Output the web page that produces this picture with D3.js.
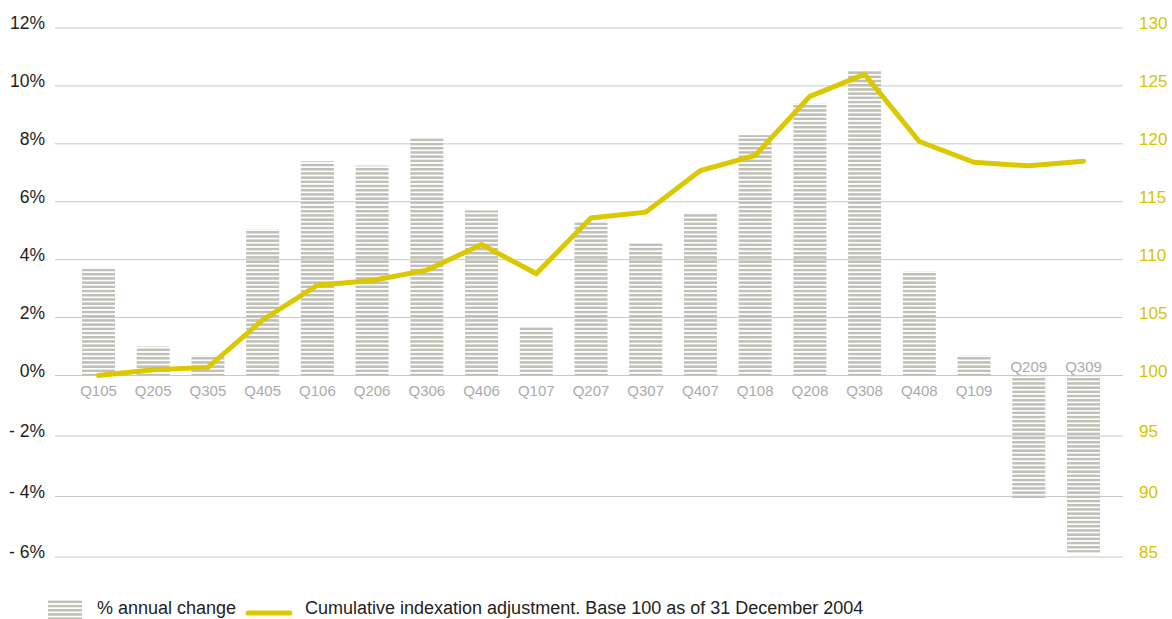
<!DOCTYPE html>
<html>
<head>
<meta charset="utf-8">
<script src="https://cdn.jsdelivr.net/npm/d3@7"></script>
<style>
  body { margin: 0; background: #fff; }
  svg { display: block; font-family: "Liberation Sans", Arial, sans-serif; }
</style>
</head>
<body>
<svg id="myGraph" width="1172" height="619"></svg>
<script>
// quarters
var quarters = ["Q105","Q205","Q305","Q405","Q106","Q206","Q306","Q406","Q107","Q207",
                "Q307","Q407","Q108","Q208","Q308","Q408","Q109","Q209","Q309"];
// % annual change (bars, left axis)
var annualChange = [3.7, 1.0, 0.7, 5.05, 7.4, 7.25, 8.2, 5.7, 1.7, 5.3,
                    4.6, 5.6, 8.3, 9.4, 10.55, 3.6, 0.7, -4.05, -5.85];
// cumulative indexation, base 100 (line, right axis)
var cumulative = [100.0, 100.5, 100.7, 104.8, 107.8, 108.2, 109.1, 111.3, 108.8, 113.6,
                  114.1, 117.7, 119.0, 124.1, 126.0, 120.2, 118.4, 118.1, 118.5];
var leftTicks = [12, 10, 8, 6, 4, 2, 0, -2, -4, -6];
var rightTicks = [130, 125, 120, 115, 110, 105, 100, 95, 90, 85];

var barColor = "#c0c0b8";
var lineColor = "#dcc800";

var svg = d3.select("#myGraph");

// scales
var x = d3.scalePoint().domain(quarters).range([98.5, 1083.5]);
var barW = 33;
var yL = d3.scaleLinear().domain([-6, 0, 12]).range([557, 375.5, 28]);
var yR = d3.scaleLinear().domain([85, 100, 130]).range([557, 375.5, 28]);

// striped fill
var pat = svg.append("defs").append("pattern")
    .attr("id", "stripes")
    .attr("patternUnits", "userSpaceOnUse")
    .attr("width", 8).attr("height", 4.2);
pat.append("rect").attr("x", 0).attr("y", 0).attr("width", 8).attr("height", 2.5)
    .attr("fill", barColor);

// grid lines
svg.append("g").selectAll("line")
    .data(leftTicks)
    .enter().append("line")
    .attr("x1", 55).attr("x2", 1123)
    .attr("y1", function(d){ return yL(d); })
    .attr("y2", function(d){ return yL(d); })
    .attr("stroke", "#c8c8c8").attr("stroke-width", 1);

// left axis labels
svg.append("g").selectAll("text")
    .data(leftTicks)
    .enter().append("text")
    .attr("x", 45)
    .attr("y", function(d){ return yL(d) + 1; })
    .attr("text-anchor", "end")
    .attr("font-size", 17.5)
    .attr("fill", "#1e1e1e")
    .text(function(d){ return d < 0 ? "- " + Math.abs(d) + "%" : d + "%"; });

// right axis labels
svg.append("g").selectAll("text")
    .data(rightTicks)
    .enter().append("text")
    .attr("x", 1139)
    .attr("y", function(d){ return yR(d) + 1; })
    .attr("font-size", 17)
    .attr("fill", "#d6c400")
    .text(function(d){ return d; });

// bars
svg.append("g").selectAll("rect")
    .data(annualChange)
    .enter().append("rect")
    .attr("x", function(d, i){ return x(quarters[i]) - barW / 2; })
    .attr("y", function(d){ return Math.min(yL(d), yL(0)); })
    .attr("width", barW)
    .attr("height", function(d){ return Math.abs(yL(d) - yL(0)); })
    .attr("fill", "url(#stripes)");

// category labels
svg.append("g").selectAll("text")
    .data(quarters)
    .enter().append("text")
    .attr("x", function(d){ return x(d); })
    .attr("y", function(d, i){ return annualChange[i] < 0 ? yL(0) - 3.5 : yL(0) + 20.5; })
    .attr("text-anchor", "middle")
    .attr("font-size", 15)
    .attr("fill", "#ababab")
    .text(function(d){ return d; });

// line
var line = d3.line()
    .x(function(d, i){ return x(quarters[i]); })
    .y(function(d){ return yR(d); });
svg.append("path")
    .datum(cumulative)
    .attr("d", line)
    .attr("fill", "none")
    .attr("stroke", lineColor)
    .attr("stroke-width", 5)
    .attr("stroke-linecap", "round")
    .attr("stroke-linejoin", "miter");

// legend
var lg = svg.append("g");
lg.append("rect").attr("x", 48).attr("y", 599).attr("width", 34).attr("height", 20)
    .attr("fill", "url(#stripes)");
lg.append("text").attr("x", 97).attr("y", 614).attr("font-size", 18).attr("fill", "#222")
    .text("% annual change");
lg.append("line").attr("x1", 248).attr("x2", 290).attr("y1", 613).attr("y2", 613)
    .attr("stroke", lineColor).attr("stroke-width", 5).attr("stroke-linecap", "round");
lg.append("text").attr("x", 305).attr("y", 614).attr("font-size", 18).attr("fill", "#222")
    .text("Cumulative indexation adjustment. Base 100 as of 31 December 2004");
</script>
</body>
</html>
